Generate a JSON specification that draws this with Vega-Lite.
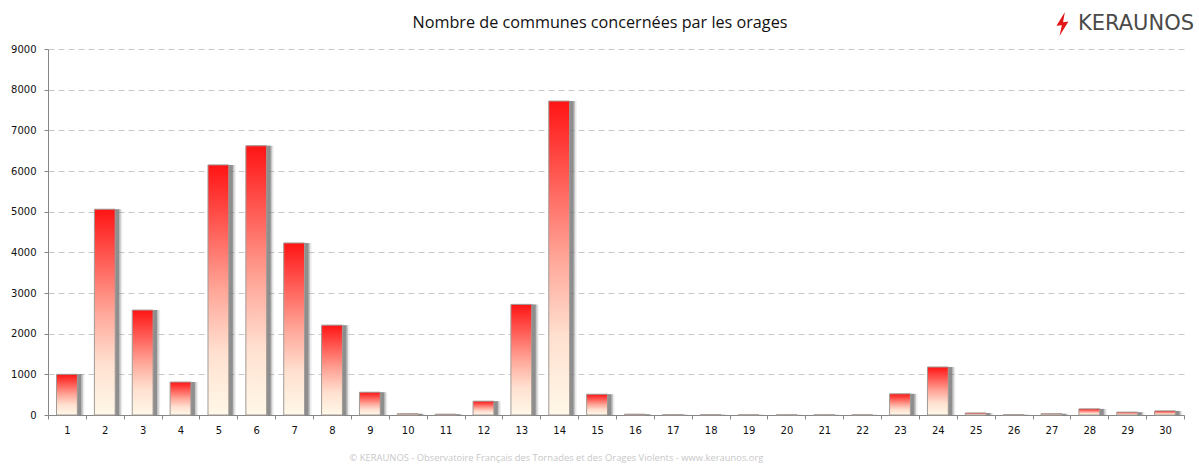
{
 "$schema":"https://vega.github.io/schema/vega-lite/v6.json",
 "width":1136,"height":366,
 "autosize":"none",
 "padding":{"left":48,"top":49,"right":15,"bottom":56},
 "background":"white",
 "title":{"text":"Nombre de communes concernées par les orages","font":"Open Sans","fontSize":16.2,"fontWeight":"normal","color":"#111111","anchor":"middle","dx":-16,"offset":-19},
 "data":{"values":[
 {"jour":1,"communes":1000},{"jour":2,"communes":5060},{"jour":3,"communes":2580},{"jour":4,"communes":810},{"jour":5,"communes":6150},{"jour":6,"communes":6620},{"jour":7,"communes":4230},{"jour":8,"communes":2210},{"jour":9,"communes":560},{"jour":10,"communes":30},
 {"jour":11,"communes":20},{"jour":12,"communes":340},{"jour":13,"communes":2720},{"jour":14,"communes":7720},{"jour":15,"communes":510},{"jour":16,"communes":20},{"jour":17,"communes":5},{"jour":18,"communes":5},{"jour":19,"communes":3},{"jour":20,"communes":3},
 {"jour":21,"communes":3},{"jour":22,"communes":3},{"jour":23,"communes":520},{"jour":24,"communes":1180},{"jour":25,"communes":50},{"jour":26,"communes":5},{"jour":27,"communes":30},{"jour":28,"communes":150},{"jour":29,"communes":70},{"jour":30,"communes":100}
 ]},
 "encoding":{
  "x":{"field":"jour","type":"ordinal","scale":{"paddingInner":0,"paddingOuter":0},
   "axis":{"title":"© KERAUNOS - Observatoire Français des Tornades et des Orages Violents - www.keraunos.org","titleFont":"Open Sans","titleFontSize":9.4,"titleFontWeight":"normal","titleColor":"#c8c8c8","titleX":508,"titleY":38,"labelAngle":0,"labelFont":"DejaVu Sans","labelFontSize":10,"labelColor":"#111111","labelPadding":6,"tickBand":"extent","tickSize":4,"tickColor":"#868686","domainColor":"#868686","domainWidth":1,"grid":false}},
  "y":{"field":"communes","type":"quantitative","scale":{"domain":[0,9000]},
   "axis":{"title":null,"format":"d","values":[0,1000,2000,3000,4000,5000,6000,7000,8000,9000],"labelFont":"DejaVu Sans","labelFontSize":10,"labelColor":"#111111","labelPadding":8,"tickSize":4,"tickColor":"#868686","domainColor":"#868686","grid":true,"gridColor":"#c8c8c8","gridDash":[6,4]}}
 },
 "layer":[
  {"mark":{"type":"bar","width":{"band":0.55},"xOffset":7,"color":"#808080","opacity":0.15}},
  {"mark":{"type":"bar","width":{"band":0.55},"xOffset":5.5,"color":"#808080","opacity":0.35}},
  {"mark":{"type":"bar","width":{"band":0.55},"xOffset":4,"color":"#707070","opacity":0.65}},
  {"mark":{"type":"bar","width":{"band":0.55},"stroke":"#a09a96","strokeWidth":1,
    "color":{"gradient":"linear","x1":0,"y1":0,"x2":0,"y2":1,"stops":[{"offset":0,"color":"#ff1414"},{"offset":0.5,"color":"#ffa698"},{"offset":0.75,"color":"#ffe0d0"},{"offset":1,"color":"#fff8e8"}]}}},
  {"data":{"values":[{"jour":30,"communes":9000,"marque":"KERAUNOS"}]},
   "mark":{"type":"text","align":"right","baseline":"middle","dx":29,"dy":-25,"font":"DejaVu Sans","fontSize":21,"color":"#4a4a4a","clip":false},
   "encoding":{"text":{"field":"marque"}}},
  {"data":{"values":[{"jour":27,"communes":9000,"marque":"KERAUNOS"}]},
   "mark":{"type":"point","shape":"M0.2,-1 L-0.5,0.15 L-0.05,0.1 L-0.25,1 L0.5,-0.2 L0.05,-0.15 Z","filled":true,"color":"#e01818","opacity":1,"size":576,"xOffset":11,"yOffset":-25,"clip":false}}
 ],
 "config":{"view":{"stroke":null}}
}
